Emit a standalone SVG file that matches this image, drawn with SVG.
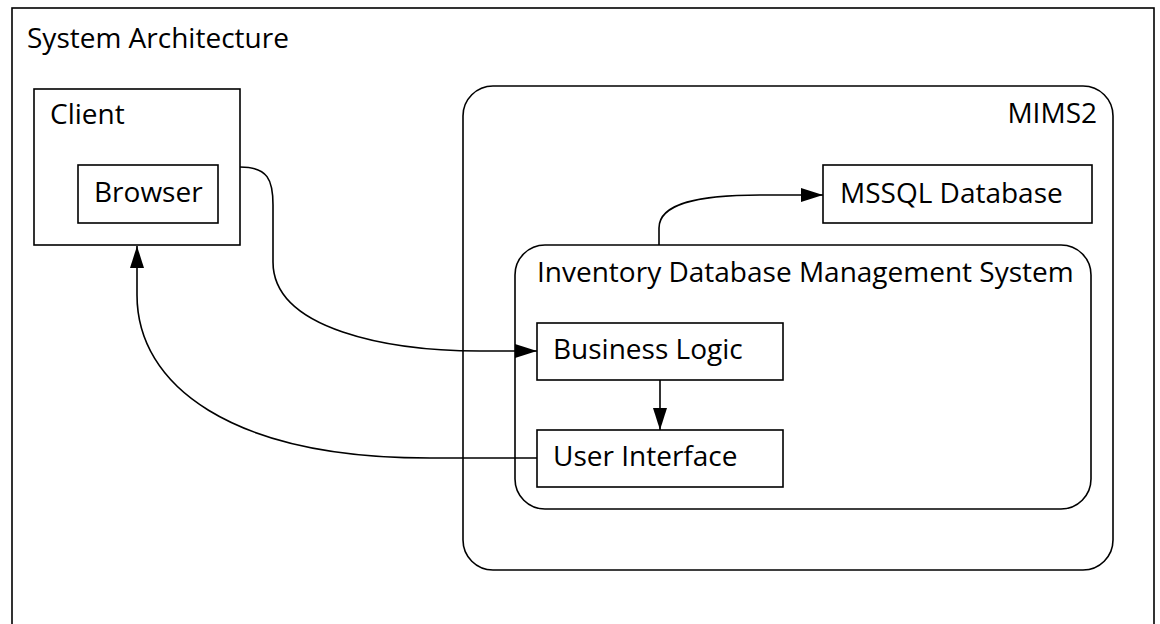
<svg xmlns="http://www.w3.org/2000/svg" width="1160" height="624" viewBox="0 0 1160 624">
  <style>
    .box { fill: #ffffff; stroke: #000000; stroke-width: 1.6; }
    .lbl { font-family: "Open Sans", "Liberation Sans", sans-serif; font-size: 28px; fill: #000000; }
    .edge { fill: none; stroke: #000000; stroke-width: 1.6; }
  </style>
  <defs>
    <marker id="arrow" viewBox="0 0 22 14" refX="22" refY="7" markerWidth="22" markerHeight="14" markerUnits="userSpaceOnUse" orient="auto">
      <path d="M0,0 L22,7 L0,14 Z" fill="#000000"/>
    </marker>
  </defs>
  <rect width="1160" height="624" fill="#ffffff"/>

  <!-- outer frame -->
  <g id="system-architecture">
    <rect class="box" x="12" y="8" width="1142" height="640" stroke-width="2"/>
    <text class="lbl" x="27" y="48">System Architecture</text>
  </g>

  <g id="client">
    <rect class="box" x="34" y="89" width="206" height="156"/>
    <text class="lbl" x="50" y="124">Client</text>
  </g>

  <g id="browser">
    <rect class="box" x="78" y="165" width="140" height="58"/>
    <text class="lbl" x="94" y="202">Browser</text>
  </g>

  <g id="mims2">
    <rect class="box" x="463" y="86" width="650" height="484" rx="30" ry="30"/>
    <text class="lbl" x="1097" y="122.5" text-anchor="end">MIMS2</text>
  </g>

  <g id="mssql-database">
    <rect class="box" x="823" y="165" width="269" height="58"/>
    <text class="lbl" x="840" y="202.5">MSSQL Database</text>
  </g>

  <g id="inventory-dbms">
    <rect class="box" x="515" y="245" width="576" height="264" rx="30" ry="30"/>
    <text class="lbl" x="537" y="282">Inventory Database Management System</text>
  </g>

  <g id="business-logic">
    <rect class="box" x="537" y="323" width="246" height="57"/>
    <text class="lbl" x="553" y="359">Business Logic</text>
  </g>

  <g id="user-interface">
    <rect class="box" x="537" y="430" width="246" height="57"/>
    <text class="lbl" x="553" y="466">User Interface</text>
  </g>

  <!-- connectors -->
  <g id="connectors">
    <path class="edge" d="M240,167 C268,167 273,180 273,205 L273,262 C273,330 390,351 480,351 L537,351" marker-end="url(#arrow)"/>
    <path class="edge" d="M537,458 L430,458 C230,458 137,385 137,295 L137,246" marker-end="url(#arrow)"/>
    <path class="edge" d="M660,380 L660,430" marker-end="url(#arrow)"/>
    <path class="edge" d="M659,245 L659,228 C659,203 700,195 760,195 L823,195" marker-end="url(#arrow)"/>
  </g>
</svg>
